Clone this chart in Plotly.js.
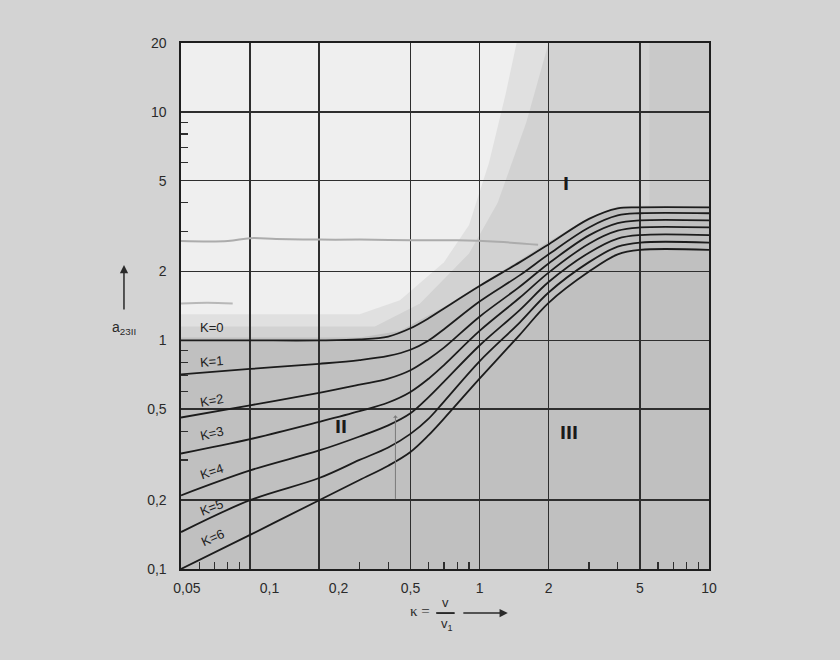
<!DOCTYPE html>
<html>
<head>
<meta charset="utf-8">
<script src="https://cdn.plot.ly/plotly-3.0.1.min.js"></script>
<style>html,body{margin:0;padding:0;background:#d3d3d3;}#chart{width:840px;height:660px;}</style>
</head>
<body>
<div id="chart"></div>
<script>
// ---- data ----
const kappa = [0.05, 0.1, 0.2, 0.3, 0.4, 0.5, 0.6, 0.7, 1, 1.5, 2, 3, 4, 5, 10];
const curveK0 = [1.0, 1.0, 1.0, 1.01, 1.04, 1.13, 1.25, 1.38, 1.73, 2.20, 2.63, 3.40, 3.78, 3.82, 3.82];
const curveK1 = [0.71, 0.75, 0.79, 0.82, 0.855, 0.91, 1.0, 1.12, 1.48, 1.93, 2.38, 3.12, 3.52, 3.60, 3.60];
const curveK2 = [0.46, 0.52, 0.59, 0.64, 0.68, 0.74, 0.83, 0.93, 1.27, 1.72, 2.17, 2.88, 3.26, 3.35, 3.35];
const curveK3 = [0.32, 0.37, 0.44, 0.49, 0.535, 0.595, 0.68, 0.78, 1.10, 1.54, 1.98, 2.65, 3.02, 3.12, 3.12];
const curveK4 = [0.21, 0.27, 0.33, 0.38, 0.425, 0.48, 0.565, 0.66, 0.95, 1.36, 1.80, 2.42, 2.79, 2.89, 2.89];
const curveK5 = [0.145, 0.20, 0.25, 0.30, 0.34, 0.39, 0.455, 0.54, 0.81, 1.20, 1.62, 2.20, 2.57, 2.68, 2.68];
const curveK6 = [0.10, 0.141, 0.20, 0.245, 0.283, 0.325, 0.385, 0.455, 0.68, 1.06, 1.46, 2.00, 2.38, 2.49, 2.49];
const curveNames = ["K=0", "K=1", "K=2", "K=3", "K=4", "K=5", "K=6"];
const curveLabelY = [1.14, 0.807, 0.548, 0.393, 0.267, 0.185, 0.137];
const curveLabelX = [0.068, 0.068, 0.068, 0.068, 0.068, 0.068, 0.069];

// faint show-through lines of the scan
const ghostX = [0.05, 0.08, 0.1, 0.13, 0.2, 0.3, 0.5, 0.8, 1.2, 1.8];
const ghostY = [2.72, 2.72, 2.80, 2.78, 2.76, 2.76, 2.74, 2.74, 2.70, 2.62];
const ghost2X = [0.05, 0.065, 0.084];
const ghost2Y = [1.45, 1.46, 1.45];

// region labels
const regionText = ["I", "II", "III"];
const regionX = [2.38, 0.249, 2.45];
const regionY = [4.88, 0.422, 0.397];

// axis ticks
const xTickVals = [0.05, 0.1, 0.2, 0.5, 1, 2, 5, 10];
const xTickText = ["\u00a0\u00a0\u00a00,05", "\u00a0\u00a0\u00a0\u00a0\u00a0\u00a0\u00a0\u00a0\u00a0\u00a00,1", "\u00a0\u00a0\u00a0\u00a0\u00a0\u00a0\u00a0\u00a0\u00a0\u00a00,2", "0,5", "1", "2", "5", "10"];
const yTickVals = [0.1, 0.2, 0.5, 1, 2, 5, 10, 20];
const yTickText = ["0,1", "0,2", "0,5", "1", "2", "5", "10", "20"];
const xMinor = [0.06, 0.07, 0.08, 0.09, 0.3, 0.4, 0.6, 0.7, 0.8, 0.9, 3, 4, 6, 7, 8, 9];
const yMinor = [0.3, 0.4, 0.6, 0.7, 0.8, 0.9, 3, 4, 6, 7, 8, 9];

// background tone zones (scan shading), lightest last
const zoneRightX = [4, 10, 10, 4];
const zoneRightY = [3.85, 3.85, 20, 20];
const zoneLightX = [0.05, 0.3, 0.45, 0.7, 1, 1.5, 2, 3, 4, 5.5, 5.5, 0.05];
const zoneLightY = [1.03, 1.03, 1.1, 1.4, 1.75, 2.25, 2.7, 3.45, 3.85, 3.9, 20, 20];
const zoneMidX = [0.05, 0.35, 0.55, 0.9, 1.2, 1.6, 2.0, 0.05];
const zoneMidY = [1.15, 1.15, 1.45, 2.4, 4.0, 9.0, 20, 20];
const zoneWhiteX = [0.05, 0.3, 0.45, 0.7, 0.9, 1.1, 1.3, 1.45, 0.05];
const zoneWhiteY = [1.3, 1.3, 1.5, 2.2, 3.2, 6, 12, 20, 20];

// ---- build ----
const X_RANGE = [Math.log10(0.05), 1];
const Y_RANGE = [-1, Math.log10(20)];
function toPaperX(x) { return (Math.log10(x) - X_RANGE[0]) / (X_RANGE[1] - X_RANGE[0]); }
function toPaperY(y) { return (Math.log10(y) - Y_RANGE[0]) / (Y_RANGE[1] - Y_RANGE[0]); }
function paperPath(xs, ys) {
  return 'M' + xs.map((x, i) => toPaperX(x).toFixed(4) + ',' + toPaperY(ys[i]).toFixed(4)).join('L') + 'Z';
}

const curves = [curveK0, curveK1, curveK2, curveK3, curveK4, curveK5, curveK6];
const traces = [];
traces.push({x: ghostX, y: ghostY, mode: 'lines', line: {color: '#acacac', width: 2, shape: 'spline'}, hoverinfo: 'skip'});
traces.push({x: ghost2X, y: ghost2Y, mode: 'lines', line: {color: '#b8b8b8', width: 2, shape: 'spline'}, hoverinfo: 'skip'});
curves.forEach((c, i) => {
  traces.push({x: kappa, y: c, name: curveNames[i], mode: 'lines',
    line: {color: '#1c1c1c', width: 1.8, shape: 'spline', smoothing: 1}});
});

const tickFont = {family: 'Liberation Sans, Arial, sans-serif', size: 14, color: '#2a2a2a'};
const annotations = [];
function note(o) { annotations.push(Object.assign({xanchor: 'center', yanchor: 'middle'}, o)); }
curveNames.forEach((n, i) => {
  const ang = [0, -5, -10, -13, -18, -21, -24][i];
  note({x: Math.log10(curveLabelX[i]), y: Math.log10(curveLabelY[i]), xref: 'x', yref: 'y',
    text: n, showarrow: false, textangle: ang, font: {family: 'Liberation Sans, Arial', size: 13, color: '#222'}});
});
regionText.forEach((t, i) => {
  note({x: Math.log10(regionX[i]), y: Math.log10(regionY[i]), xref: 'x', yref: 'y',
    text: '<b>' + t + '</b>', showarrow: false, font: {family: 'DejaVu Sans Condensed, DejaVu Sans', size: 18, color: '#1a1a1a'}});
});
// thin pointer arrow near region II
note({x: Math.log10(0.43), y: Math.log10(0.47), xref: 'x', yref: 'y', text: '', showarrow: true,
  arrowhead: 1, arrowsize: 0.8, arrowwidth: 1, arrowcolor: '#7a7a7a', ax: 0, ay: 85});
// y axis title + arrow
note({x: -0.108, y: 0.458, xref: 'paper', yref: 'paper', text: 'a<sub>23II</sub>', showarrow: false,
  font: {family: 'Liberation Sans, Arial', size: 14, color: '#2a2a2a'}});
note({x: -0.108, y: 0.578, xref: 'paper', yref: 'paper', text: '', showarrow: true,
  arrowhead: 2, arrowsize: 1.1, arrowwidth: 1.5, arrowcolor: '#2a2a2a', ax: 0, ay: 46});
// x axis title: kappa = v / v1  -->
note({x: 0.452, y: -0.080, xref: 'paper', yref: 'paper', text: '\u03ba =', showarrow: false,
  font: {family: 'Liberation Serif, DejaVu Serif', size: 15, color: '#2a2a2a'}});
note({x: 0.501, y: -0.063, xref: 'paper', yref: 'paper', text: 'v', showarrow: false,
  font: {family: 'Liberation Sans, Arial', size: 13, color: '#2a2a2a'}});
note({x: 0.503, y: -0.106, xref: 'paper', yref: 'paper', text: 'v<sub>1</sub>', showarrow: false,
  font: {family: 'Liberation Sans, Arial', size: 13, color: '#2a2a2a'}});
note({x: 0.619, y: -0.0837, xref: 'paper', yref: 'paper', text: '', showarrow: true,
  arrowhead: 2, arrowsize: 1.1, arrowwidth: 1.5, arrowcolor: '#2a2a2a', ax: -46, ay: 0, standoff: 0});
// fraction bar, drawn as a headless arrow long enough to be kept
note({x: 0.518, y: -0.0837, xref: 'paper', yref: 'paper', text: '', showarrow: true,
  arrowhead: 0, arrowwidth: 1.5, arrowcolor: '#2a2a2a', ax: -20, ay: 0, standoff: 0, startstandoff: 0});

const shapes = [
  {type: 'path', xref: 'paper', yref: 'paper', layer: 'below', path: paperPath(zoneRightX, zoneRightY),
    fillcolor: '#c9c9c9', line: {width: 0}},
  {type: 'path', xref: 'paper', yref: 'paper', layer: 'below', path: paperPath(zoneLightX, zoneLightY),
    fillcolor: '#d2d2d2', line: {width: 0}},
  {type: 'path', xref: 'paper', yref: 'paper', layer: 'below', path: paperPath(zoneMidX, zoneMidY),
    fillcolor: '#e0e0e0', line: {width: 0}},
  {type: 'path', xref: 'paper', yref: 'paper', layer: 'below', path: paperPath(zoneWhiteX, zoneWhiteY),
    fillcolor: '#efefef', line: {width: 0}},
  {type: 'rect', xref: 'paper', yref: 'paper', layer: 'above', x0: 0.485, x1: 0.518, y0: -0.0855, y1: -0.0825,
    fillcolor: '#2a2a2a', line: {width: 0}}
];

const layout = {
  width: 840, height: 660,
  margin: {l: 181, r: 131, t: 43, b: 91},
  paper_bgcolor: '#d3d3d3', plot_bgcolor: '#c0c0c0',
  showlegend: false,
  xaxis: {type: 'log', range: X_RANGE, tickmode: 'array', tickvals: xTickVals, ticktext: xTickText,
    showgrid: true, gridcolor: '#2e2e2e', gridwidth: 1.5, zeroline: false,
    showline: true, linecolor: '#1e1e1e', linewidth: 1.6, mirror: true,
    ticks: '', tickfont: tickFont, ticklabelstandoff: 6,
    minor: {tickmode: 'array', tickvals: xMinor, ticks: 'inside', ticklen: 7, tickwidth: 1.2, tickcolor: '#2e2e2e', showgrid: false}},
  yaxis: {type: 'log', range: Y_RANGE, tickmode: 'array', tickvals: yTickVals, ticktext: yTickText,
    showgrid: true, gridcolor: '#2e2e2e', gridwidth: 1.5, zeroline: false,
    showline: true, linecolor: '#1e1e1e', linewidth: 1.6, mirror: true,
    ticks: '', tickfont: tickFont, ticklabelstandoff: 10,
    minor: {tickmode: 'array', tickvals: yMinor, ticks: 'inside', ticklen: 7, tickwidth: 1.2, tickcolor: '#2e2e2e', showgrid: false}},
  annotations: annotations,
  shapes: shapes
};

Plotly.newPlot('chart', traces, layout, {staticPlot: true, displayModeBar: false});
</script>
</body>
</html>
